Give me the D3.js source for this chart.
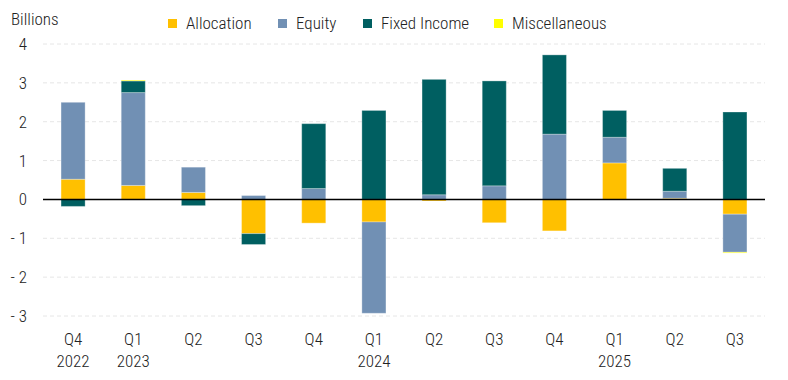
<!DOCTYPE html>
<html><head><meta charset="utf-8">
<script src="https://cdn.jsdelivr.net/npm/d3@7"></script>
<style>
body{margin:0;background:#fff;}
text{font-family:"Liberation Sans Narrow","Roboto Condensed",Roboto,sans-serif;font-weight:300;}
</style></head>
<body><svg id="c" width="788" height="380"></svg>
<script>
const quarters = ["Q4","Q1","Q2","Q3","Q4","Q1","Q2","Q3","Q4","Q1","Q2","Q3"];
const years = ["2022","2023","","","","2024","","","","2025","",""];
const seriesNames = ["Allocation","Equity","Fixed Income","Miscellaneous"];
const allocation = [0.52,0.36,0.18,-0.88,-0.61,-0.58,-0.04,-0.60,-0.81,0.94,0.03,-0.38];
const equity =     [1.98,2.39,0.65,0.10,0.28,-2.35,0.12,0.35,1.68,0.66,0.18,-0.98];
const fixedIncome =[-0.18,0.30,-0.16,-0.28,1.67,2.29,2.97,2.70,2.04,0.69,0.59,2.25];
const misc =       [0,0.02,0,0,0,0,0,0,0,0,0,-0.02];
const yTicks = [4,3,2,1,0,-1,-2,-3];
const colors = ["#ffc000","#7190b4","#005f61","#ffff00"];

(function(){
const svg = d3.select("#c");
const L=43, R=765, T=44, B=316;
const x = d3.scaleBand().domain(d3.range(quarters.length)).range([L,R]).paddingInner(0.6).paddingOuter(0.3);
const y = d3.scaleLinear().domain([-3,4]).range([B,T]);

svg.append("g").selectAll("line").data(yTicks.filter(d=>d!==0)).join("line")
  .attr("x1",L).attr("x2",R).attr("y1",d=>y(d)).attr("y2",d=>y(d))
  .attr("stroke","#e6e6e6").attr("stroke-width",1).attr("stroke-dasharray","4,3");

const yAxis = d3.axisLeft(y).tickValues(yTicks).tickSize(0).tickPadding(0).tickFormat(d=>d<0?"- "+Math.abs(d):d);
const ya = svg.append("g").attr("transform",`translate(27,0)`).call(yAxis);
ya.select(".domain").remove();
ya.selectAll("text").attr("font-size",17).attr("fill","#222").attr("font-family",null);

const data = quarters.map((q,i)=>({i, a:allocation[i], e:equity[i], f:fixedIncome[i], m:misc[i]}));
const keys = ["a","e","f","m"];
const stack = d3.stack().keys(keys).offset(d3.stackOffsetDiverging);
const series = stack(data);
series.forEach((s,k)=>{
  svg.append("g").selectAll("rect").data(s).join("rect")
    .attr("x",d=>x(d.data.i)).attr("width",x.bandwidth())
    .attr("y",d=>y(Math.max(d[0],d[1])))
    .attr("height",d=>Math.abs(y(d[0])-y(d[1])))
    .attr("fill",colors[k])
    .attr("stroke","#ffffff").attr("stroke-opacity",0.3).attr("stroke-width",1);
});

svg.append("line").attr("x1",L).attr("x2",R).attr("y1",y(0)).attr("y2",y(0)).attr("stroke","#000").attr("stroke-width",1.5);

const xAxis = d3.axisBottom(x).tickSize(0).tickPadding(0).tickFormat(i=>quarters[i]);
const xa = svg.append("g").attr("transform",`translate(0,345)`).call(xAxis);
xa.select(".domain").remove();
xa.selectAll("text").attr("font-size",17).attr("fill","#222").attr("dy",0);
xa.attr("font-family",null);
svg.append("g").selectAll("text").data(d3.range(quarters.length).filter(i=>years[i])).join("text")
  .attr("x",i=>x(i)+x.bandwidth()/2).attr("y",367).attr("text-anchor","middle")
  .attr("font-size",17).attr("fill","#222").text(i=>years[i]);

svg.append("text").attr("x",11).attr("y",25).attr("font-size",17).attr("fill","#222").text("Billions");

const legX = [168,278,363,494];
const lg = svg.append("g").selectAll("g").data(seriesNames).join("g")
  .attr("transform",(d,i)=>`translate(${legX[i]},0)`);
lg.append("rect").attr("x",0).attr("y",19).attr("width",9).attr("height",9).attr("fill",(d,i)=>colors[i]);
lg.append("text").attr("x",18).attr("y",29).attr("font-size",17).attr("fill","#222").text(d=>d);
ya.attr("font-family",null);
})();
</script></body></html>
